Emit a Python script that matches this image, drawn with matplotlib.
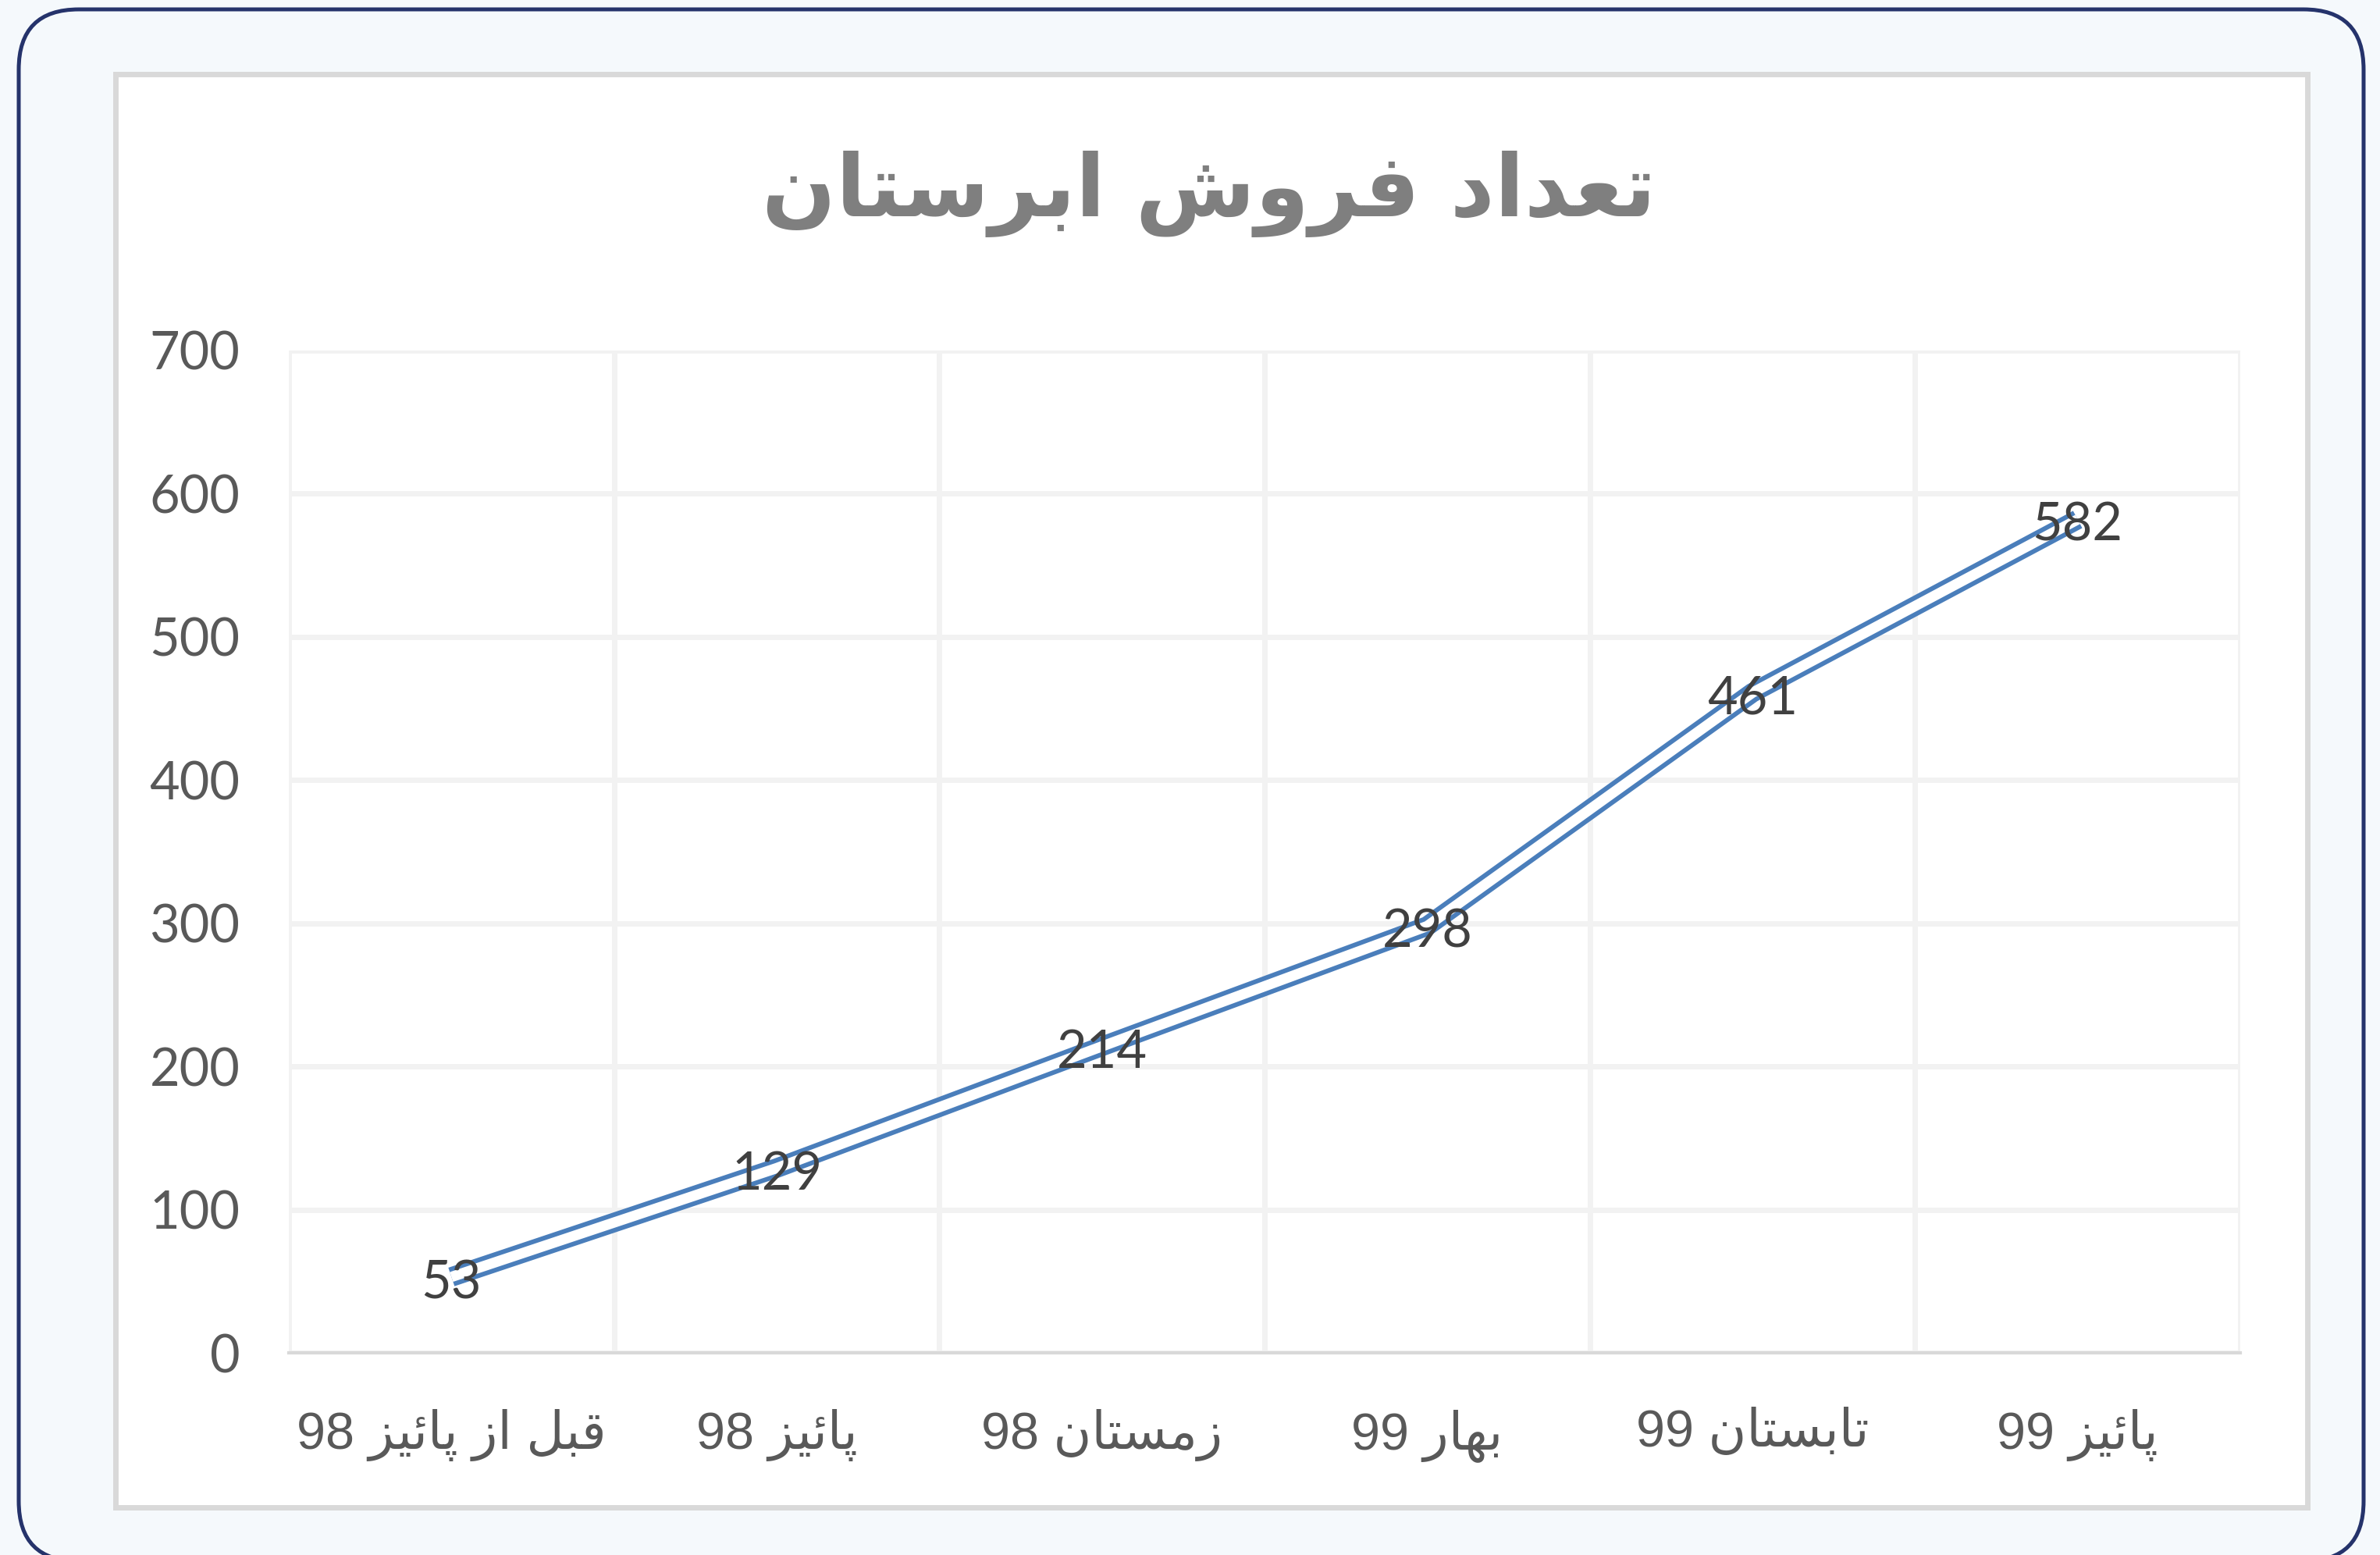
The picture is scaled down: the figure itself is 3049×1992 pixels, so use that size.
import matplotlib
matplotlib.use("Agg")
import matplotlib.pyplot as plt
from matplotlib.patches import FancyBboxPatch, Rectangle

# data
title = "تعداد فروش ابرستان"
categories = ["قبل از پائیز 98", "پائیز 98", "زمستان 98", "بهار 99", "تابستان 99", "پائیز 99"]
sales = [53, 129, 214, 298, 461, 582]
y_ticks = [0, 100, 200, 300, 400, 500, 600, 700]

# Arabic presentation forms: isolated, final, initial, medial
FORMS = {
    "ا": ("\uFE8D", "\uFE8E", None, None),
    "ب": ("\uFE8F", "\uFE90", "\uFE91", "\uFE92"),
    "ت": ("\uFE95", "\uFE96", "\uFE97", "\uFE98"),
    "د": ("\uFEA9", "\uFEAA", None, None),
    "ر": ("\uFEAD", "\uFEAE", None, None),
    "ز": ("\uFEAF", "\uFEB0", None, None),
    "س": ("\uFEB1", "\uFEB2", "\uFEB3", "\uFEB4"),
    "ش": ("\uFEB5", "\uFEB6", "\uFEB7", "\uFEB8"),
    "ع": ("\uFEC9", "\uFECA", "\uFECB", "\uFECC"),
    "ف": ("\uFED1", "\uFED2", "\uFED3", "\uFED4"),
    "ق": ("\uFED5", "\uFED6", "\uFED7", "\uFED8"),
    "ل": ("\uFEDD", "\uFEDE", "\uFEDF", "\uFEE0"),
    "م": ("\uFEE1", "\uFEE2", "\uFEE3", "\uFEE4"),
    "ن": ("\uFEE5", "\uFEE6", "\uFEE7", "\uFEE8"),
    "ه": ("\uFEE9", "\uFEEA", "\uFEEB", "\uFEEC"),
    "و": ("\uFEED", "\uFEEE", None, None),
    "ئ": ("\uFE89", "\uFE8A", "\uFE8B", "\uFE8C"),
    "پ": ("\uFB56", "\uFB57", "\uFB58", "\uFB59"),
    "ی": ("\uFBFC", "\uFBFD", "\uFBFE", "\uFBFF"),
}


def shape_word(word):
    out = []
    for i, ch in enumerate(word):
        if ch not in FORMS:
            out.append(ch)
            continue
        prev = word[i - 1] if i > 0 else None
        nxt = word[i + 1] if i + 1 < len(word) else None
        joins_prev = prev in FORMS and FORMS[prev][2] is not None
        joins_next = FORMS[ch][2] is not None and nxt in FORMS
        iso, fin, ini, med = FORMS[ch]
        if joins_prev and joins_next:
            out.append(med)
        elif joins_prev:
            out.append(fin)
        elif joins_next:
            out.append(ini)
        else:
            out.append(iso)
    return "".join(out)


def rtl(text):
    # shape each word, then lay the words out right to left
    tokens = []
    for tok in text.split(" "):
        if any(c in FORMS for c in tok):
            tokens.append(shape_word(tok)[::-1])
        else:
            tokens.append(tok)
    return " ".join(tokens[::-1])


W, H = 3049, 1992
fig = plt.figure(figsize=(W / 100, H / 100), dpi=100)
fig.patch.set_facecolor("#F5F9FC")

# background layer in pixel coordinates (y measured from the bottom)
bg = fig.add_axes([0, 0, 1, 1])
bg.set_xlim(0, W)
bg.set_ylim(0, H)
bg.axis("off")
frame = FancyBboxPatch((24, H - 2000), 3004, 1988,
                       boxstyle="round,pad=0,rounding_size=77",
                       facecolor="none", edgecolor="#25336B", linewidth=3.6)
frame.set_clip_on(False)
bg.add_patch(frame)
bg.add_patch(Rectangle((147.5, H - 1930.5), 2808, 1836, facecolor="white",
                       edgecolor="#D9D9D9", linewidth=5))
bg.text(1549, H - 248, rtl(title), ha="center", va="center", fontsize=80,
        fontweight="bold", color="#7F7F7F", family=["DejaVu Sans"])

ax = fig.add_axes([370 / W, 1 - 1733 / H, 2500 / W, 1284 / H])
ax.set_facecolor("white")
x = list(range(len(categories)))

ax.plot(x, sales, color="#4A7EBB", linewidth=18,
        solid_capstyle="butt", solid_joinstyle="miter", zorder=3)
ax.plot(x, sales, color="white", linewidth=9.5,
        solid_capstyle="butt", solid_joinstyle="miter", zorder=4)

for xi, v in zip(x, sales):
    ax.annotate(str(v), (xi, v), xytext=(0, -6), textcoords="offset points",
                ha="center", va="center", fontsize=48, color="#404040",
                family=["Lato", "DejaVu Sans"], zorder=5)

ax.set_xlim(-0.5, len(categories) - 0.5)
ax.set_ylim(0, 700)
ax.set_yticks(y_ticks)
ax.set_yticklabels([str(t) for t in y_ticks], fontsize=48, color="#595959",
                   family=["Lato", "DejaVu Sans"])
ax.set_xticks(x)
ax.set_xticklabels([rtl(c) for c in categories], fontsize=48, color="#595959",
                   family=["Liberation Sans", "DejaVu Sans"])
ax.set_xticks([i - 0.5 for i in range(len(categories) + 1)], minor=True)
ax.tick_params(axis="both", which="both", length=0)
ax.tick_params(axis="y", pad=45)
ax.tick_params(axis="x", pad=52)

ax.grid(axis="y", which="major", color="#F2F2F2", linewidth=5)
ax.grid(axis="x", which="minor", color="#F2F2F2", linewidth=5)
ax.grid(axis="x", which="major", visible=False)
ax.set_axisbelow(True)

for side in ["top", "right", "left"]:
    ax.spines[side].set_visible(False)
ax.spines["bottom"].set_color("#D9D9D9")
ax.spines["bottom"].set_linewidth(3)
ax.spines["bottom"].set_zorder(2)

fig.savefig("out.png", dpi=100, facecolor=fig.get_facecolor())
